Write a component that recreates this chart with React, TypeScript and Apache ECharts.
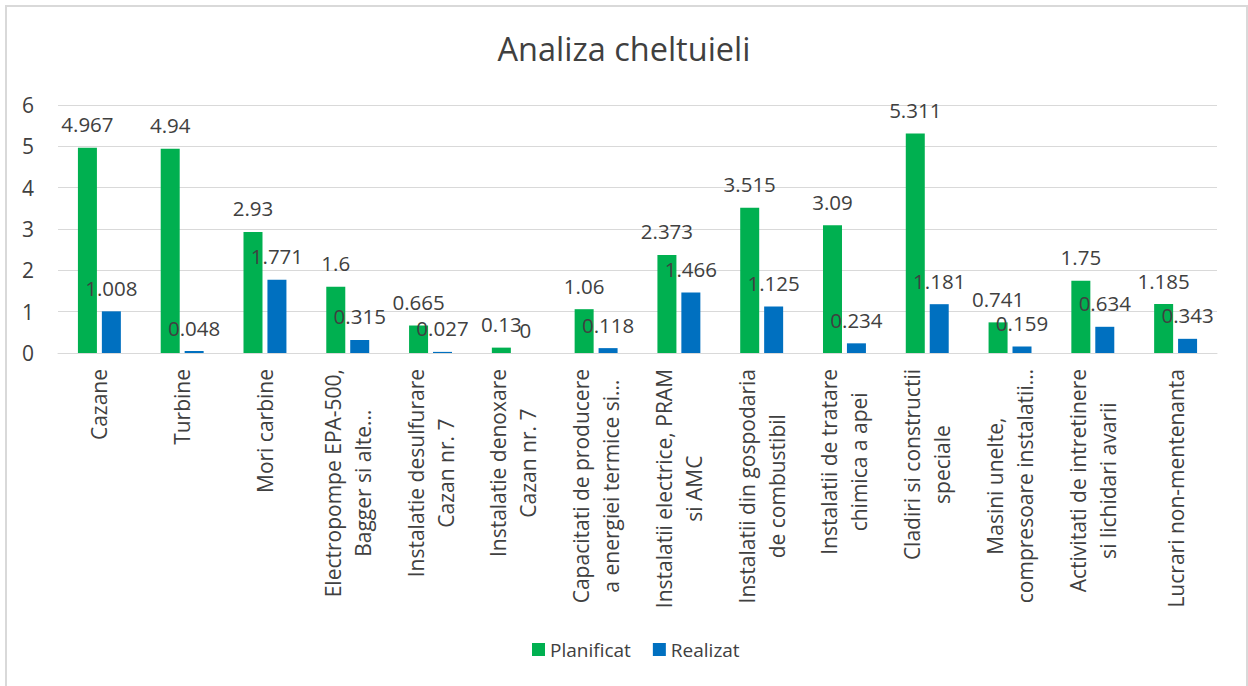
import React, { useEffect, useRef } from "react";
import * as echarts from "echarts";

const categories = [
  "Cazane",
  "Turbine",
  "Mori carbine",
  "Electropompe EPA-500,\nBagger si alte…",
  "Instalatie desulfurare\nCazan nr. 7",
  "Instalatie denoxare\nCazan nr. 7",
  "Capacitati de producere\na energiei termice si…",
  "Instalatii electrice, PRAM\nsi AMC",
  "Instalatii din gospodaria\nde combustibil",
  "Instalatii de tratare\nchimica a apei",
  "Cladiri si constructii\nspeciale",
  "Masini unelte,\ncompresoare instalatii…",
  "Activitati de intretinere\nsi lichidari avarii",
  "Lucrari non-mentenanta",
];

const planificat = [4.967, 4.94, 2.93, 1.6, 0.665, 0.13, 1.06, 2.373, 3.515, 3.09, 5.311, 0.741, 1.75, 1.185];
const realizat = [1.008, 0.048, 1.771, 0.315, 0.027, 0, 0.118, 1.466, 1.125, 0.234, 1.181, 0.159, 0.634, 0.343];

const yTicks = { min: 0, max: 6, interval: 1 };

const FONT = "'Open Sans', sans-serif";
const TEXT = "#404040";

export default function App() {
  const ref = useRef<HTMLDivElement>(null);

  useEffect(() => {
    if (!ref.current) return;
    const chart = echarts.init(ref.current, undefined, { renderer: "svg" });
    const labelStyle = {
      show: true,
      position: "top" as const,
      distance: 13,
      fontSize: 20.5,
      lineHeight: 21,
      fontFamily: FONT,
      color: TEXT,
      formatter: (p: any) => String(p.value),
    };
    chart.setOption({
      animation: false,
      backgroundColor: "#ffffff",
      textStyle: { fontFamily: FONT },
      title: {
        text: "Analiza cheltuieli",
        left: "center",
        top: 27,
        textStyle: { fontSize: 32.5, fontWeight: "normal", color: TEXT, fontFamily: FONT },
      },
      graphic: [
        {
          type: "rect",
          shape: { x: 6, y: 6, width: 1241, height: 700 },
          style: { fill: "none", stroke: "#d9d9d9", lineWidth: 2 },
          silent: true,
        },
      ],
      legend: {
        data: ["Planificat", "Realizat"],
        bottom: 22,
        left: 527,
        itemWidth: 13,
        itemHeight: 13,
        itemGap: 22,
        icon: "rect",
        textStyle: { fontSize: 19, color: TEXT, fontFamily: FONT },
      },
      grid: { left: 58, right: 31, top: 105, bottom: 333, containLabel: false },
      xAxis: {
        type: "category",
        data: categories,
        axisLine: { show: true, lineStyle: { color: "#d9d9d9", width: 1 } },
        axisTick: { show: false },
        axisLabel: {
          rotate: 90,
          interval: 0,
          margin: 16,
          fontSize: 21,
          lineHeight: 30,
          color: TEXT,
          fontFamily: FONT,
          formatter: (v: string) =>
            v
              .split("\n")
              .map((l) => `{c|${l}}`)
              .join("\n"),
          rich: {
            c: { align: "center", fontSize: 21, lineHeight: 30, color: TEXT, fontFamily: FONT },
          },
        },
      },
      yAxis: {
        type: "value",
        min: yTicks.min,
        max: yTicks.max,
        interval: yTicks.interval,
        axisLine: { show: false },
        axisTick: { show: false },
        splitLine: { lineStyle: { color: "#d9d9d9", width: 1 } },
        axisLabel: { fontSize: 21, color: TEXT, fontFamily: FONT, margin: 24 },
      },
      series: [
        {
          name: "Planificat",
          type: "bar",
          data: planificat,
          barWidth: 19,
          barGap: "26%",
          itemStyle: { color: "#00B050" },
          label: labelStyle,
        },
        {
          name: "Realizat",
          type: "bar",
          data: realizat,
          barWidth: 19,
          itemStyle: { color: "#0070C0" },
          label: labelStyle,
        },
      ],
    });
    return () => chart.dispose();
  }, []);

  return (
    <div
      ref={ref}
      style={{ position: "absolute", left: 0, top: 0, width: 1248, height: 686 }}
    />
  );
}
